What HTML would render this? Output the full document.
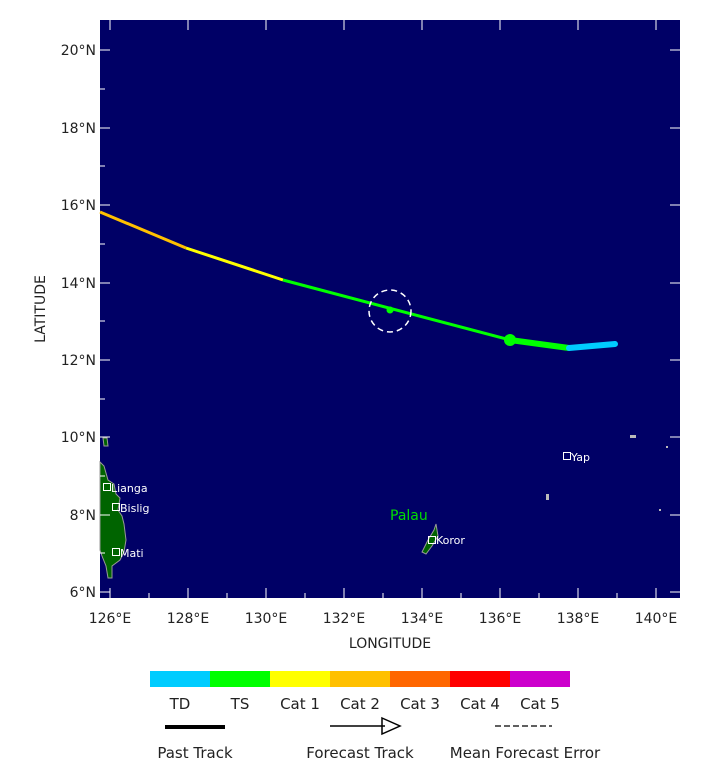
<!DOCTYPE html><html><head><style>body{margin:0;background:#fff;width:720px;height:760px;overflow:hidden}svg text{font-family:"DejaVu Sans","Liberation Sans",sans-serif}</style></head><body>
<svg width="720" height="760" xmlns="http://www.w3.org/2000/svg">
<rect x="100" y="20" width="580" height="578" fill="#000066"/>
<!-- land -->
<path d="M100,462 L104,466 L108,480 L114,484 L116,494 L120,498 L118,510 L122,516 L124,524 L126,540 L124,552 L120,560 L112,566 L112,578 L108,578 L106,566 L102,556 L100,550 Z" fill="#006400" stroke="#999" stroke-width="1"/>
<path d="M103,438 L107,438 L108,446 L104,446 Z" fill="#006400" stroke="#999" stroke-width="1"/>
<path d="M436,524 L438,536 L432,546 L426,554 L422,552 L428,540 L434,530 Z" fill="#006400" stroke="#999" stroke-width="1"/>
<g fill="#bbb"><rect x="630" y="435" width="6" height="3"/><rect x="546" y="494" width="3" height="6"/><rect x="666" y="446" width="2" height="2"/><rect x="659" y="509" width="2" height="2"/></g>
<!-- ticks -->
<g stroke="#fff" stroke-width="1">
<path d="M110,598v-10M188,598v-10M266,598v-10M344,598v-10M422,598v-10M500,598v-10M578,598v-10M656,598v-10M149,598v-5M227,598v-5M305,598v-5M383,598v-5M461,598v-5M539,598v-5M617,598v-5"/>
<path d="M110,20v10M188,20v10M266,20v10M344,20v10M422,20v10M500,20v10M578,20v10M656,20v10"/>
<path d="M100,50h10M100,128h10M100,205h10M100,283h10M100,360h10M100,437h10M100,515h10M100,592h10M100,89h5M100,166h5M100,244h5M100,321h5M100,399h5M100,476h5M100,553h5"/>
<path d="M680,50h-10M680,128h-10M680,205h-10M680,283h-10M680,360h-10M680,437h-10M680,515h-10M680,592h-10"/>
</g>
<!-- track -->
<polyline points="100,212 186,248" stroke="#ffc000" stroke-width="3" fill="none"/>
<polyline points="186,248 283,280" stroke="#ffff00" stroke-width="3" fill="none"/>
<polyline points="283,280 510,340" stroke="#00ff00" stroke-width="3" fill="none"/>
<polyline points="510,340 569,348" stroke="#00ff00" stroke-width="6" fill="none"/>
<polyline points="569,348 615,344" stroke="#00ccff" stroke-width="6" fill="none" stroke-linecap="round"/>
<circle cx="510" cy="340" r="6" fill="#00ff00"/>
<circle cx="390" cy="310" r="3.5" fill="#00ff00"/>
<circle cx="390" cy="311" r="21" fill="none" stroke="#fff" stroke-width="1.5" stroke-dasharray="6,4"/>
<!-- stations -->
<g fill="none" stroke="#fff"><rect x="103.5" y="483.5" width="7" height="7"/><rect x="112.5" y="503.5" width="7" height="7"/><rect x="112.5" y="548.5" width="7" height="7"/><rect x="428.5" y="536.5" width="7" height="7"/><rect x="563.5" y="452.5" width="7" height="7"/></g>
<g fill="#fff" font-size="11"><text x="111" y="492">Lianga</text><text x="120" y="512">Bislig</text><text x="120" y="557">Mati</text><text x="436" y="544">Koror</text><text x="571" y="461">Yap</text></g>
<text x="390" y="520" fill="#00dd00" font-size="14">Palau</text>
<!-- axis labels -->
<g font-size="14" fill="#222" text-anchor="middle"><text x="110" y="623">126°E</text><text x="188" y="623">128°E</text><text x="266" y="623">130°E</text><text x="344" y="623">132°E</text><text x="422" y="623">134°E</text><text x="500" y="623">136°E</text><text x="578" y="623">138°E</text><text x="656" y="623">140°E</text><text x="390" y="648">LONGITUDE</text></g>
<g font-size="14" fill="#222" text-anchor="end"><text x="96" y="55">20°N</text><text x="96" y="133">18°N</text><text x="96" y="210">16°N</text><text x="96" y="288">14°N</text><text x="96" y="365">12°N</text><text x="96" y="442">10°N</text><text x="96" y="520">8°N</text><text x="96" y="597">6°N</text></g>
<text transform="translate(45,309) rotate(-90)" font-size="14" fill="#222" text-anchor="middle">LATITUDE</text>
<!-- legend -->
<rect x="150" y="671" width="60" height="16" fill="#00ccff"/><rect x="210" y="671" width="60" height="16" fill="#00ff00"/><rect x="270" y="671" width="60" height="16" fill="#ffff00"/><rect x="330" y="671" width="60" height="16" fill="#ffc000"/><rect x="390" y="671" width="60" height="16" fill="#ff6600"/><rect x="450" y="671" width="60" height="16" fill="#ff0000"/><rect x="510" y="671" width="60" height="16" fill="#cc00cc"/>
<g font-size="15" fill="#222" text-anchor="middle"><text x="180" y="709">TD</text><text x="240" y="709">TS</text><text x="300" y="709">Cat 1</text><text x="360" y="709">Cat 2</text><text x="420" y="709">Cat 3</text><text x="480" y="709">Cat 4</text><text x="540" y="709">Cat 5</text>
<text x="195" y="758">Past Track</text><text x="360" y="758">Forecast Track</text><text x="525" y="758">Mean Forecast Error</text></g>
<line x1="165" y1="727" x2="225" y2="727" stroke="#000" stroke-width="4"/>
<line x1="330" y1="726" x2="385" y2="726" stroke="#000" stroke-width="1.5"/><path d="M382,718 L400,726 L382,734 Z" fill="none" stroke="#000" stroke-width="1.5"/>
<line x1="495" y1="726" x2="552" y2="726" stroke="#000" stroke-width="1.2" stroke-dasharray="6,3"/>
</svg></body></html>
